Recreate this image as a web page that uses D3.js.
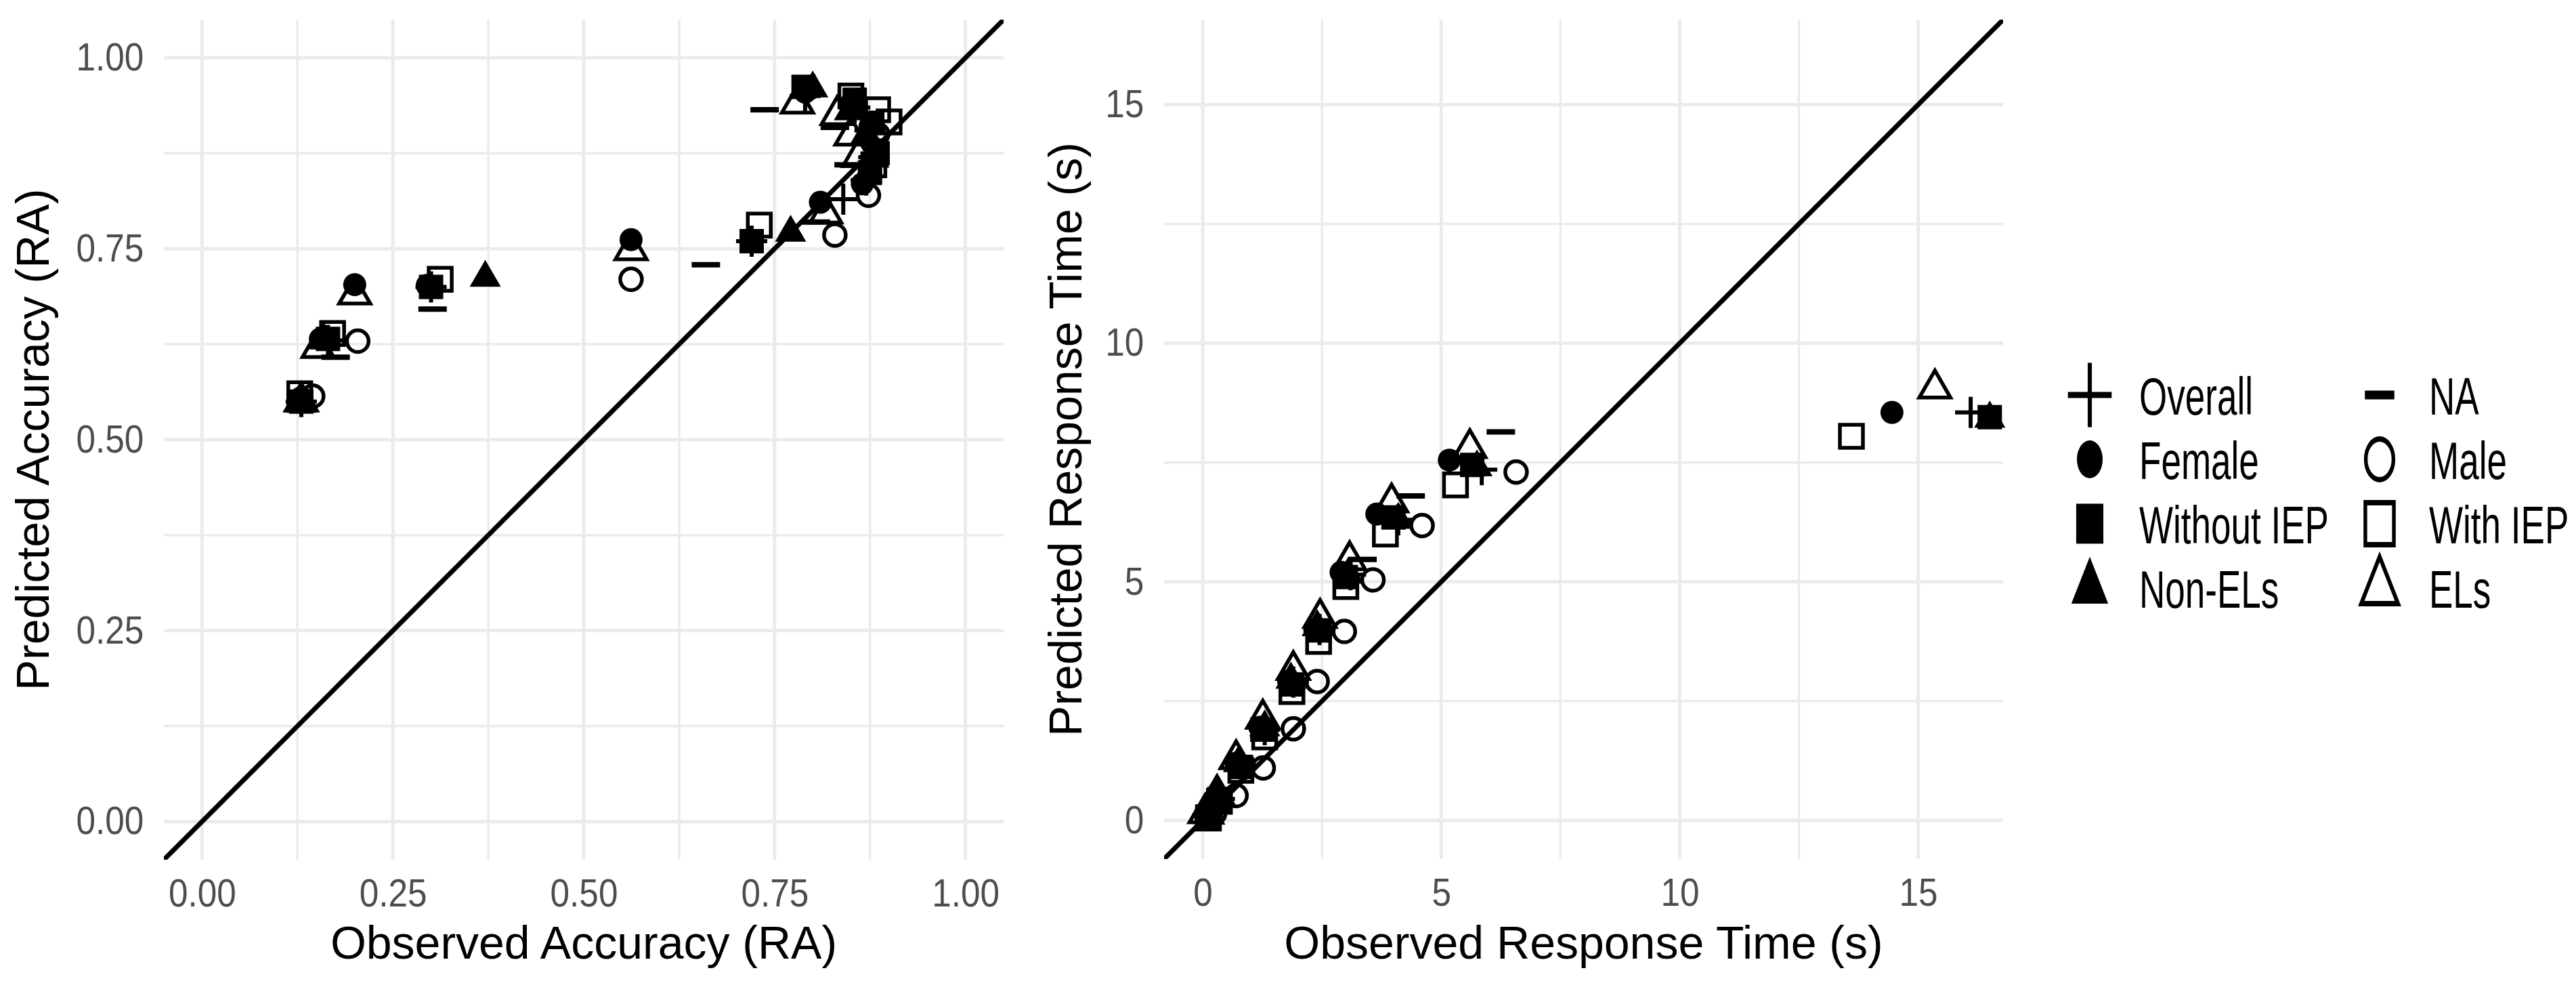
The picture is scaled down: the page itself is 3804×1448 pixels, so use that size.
<!DOCTYPE html>
<html>
<head>
<meta charset="utf-8">
<script src="https://cdn.jsdelivr.net/npm/d3@7"></script>
<style>
  body { margin: 0; background: #fff; }
  svg text { font-family: "Liberation Sans", Arial, sans-serif; }
</style>
</head>
<body>
<div id="chart"></div>
<script>
// group order (legend reads column by column)
var groupNames = ["Overall", "Female", "Without IEP", "Non-ELs", "NA", "Male", "With IEP", "ELs"];

// accuracy panel: [observed, predicted]
var accOverall = [[0.13,0.55],[0.165,0.63],[0.30,0.70],[0.72,0.76],[0.79,0.95],[0.855,0.935],[0.875,0.905],[0.88,0.87],[0.87,0.84],[0.84,0.815]];
var accFemale = [[0.13,0.555],[0.155,0.632],[0.20,0.703],[0.295,0.702],[0.562,0.762],[0.81,0.811],[0.79,0.955],[0.85,0.94],[0.875,0.91],[0.885,0.88],[0.865,0.835]];
var accWithoutIEP = [[0.13,0.55],[0.165,0.632],[0.30,0.70],[0.72,0.76],[0.788,0.962],[0.855,0.945],[0.878,0.915],[0.885,0.875],[0.875,0.85]];
var accNonELs = [[0.13,0.547],[0.16,0.63],[0.371,0.712],[0.771,0.771],[0.80,0.96],[0.848,0.93],[0.87,0.90],[0.88,0.868],[0.87,0.845]];
var accNA = [[0.175,0.608],[0.302,0.671],[0.66,0.729],[0.804,0.785],[0.737,0.932],[0.829,0.909],[0.847,0.86]];
var accMale = [[0.145,0.557],[0.204,0.629],[0.562,0.71],[0.829,0.768],[0.873,0.82],[0.885,0.90]];
var accWithIEP = [[0.128,0.56],[0.171,0.639],[0.312,0.71],[0.73,0.781],[0.85,0.95],[0.885,0.932],[0.90,0.916],[0.88,0.86]];
var accELs = [[0.13,0.55],[0.152,0.62],[0.20,0.69],[0.562,0.748],[0.817,0.796],[0.78,0.94],[0.832,0.925],[0.85,0.898],[0.86,0.87]];

// response time panel: [observed, predicted]
var rtOverall = [[0.1,0.1],[0.35,0.45],[0.8,1.15],[1.3,1.9],[1.9,2.9],[2.45,4.0],[3.1,5.15],[4.1,6.3],[5.85,7.35],[16.1,8.55]];
var rtFemale = [[0.05,0.12],[0.3,0.5],[0.7,1.2],[1.2,1.95],[1.8,2.92],[2.35,4.0],[2.9,5.2],[3.65,6.42],[5.17,7.55],[14.45,8.55]];
var rtWithoutIEP = [[0.1,0.08],[0.35,0.45],[0.8,1.12],[1.25,1.9],[1.88,2.85],[2.45,3.98],[3.0,5.1],[4.0,6.35],[5.65,7.45],[16.5,8.45]];
var rtNonELs = [[0.15,0.1],[0.3,0.48],[0.75,1.2],[1.3,1.95],[1.85,2.95],[2.4,4.05],[3.05,5.15],[4.1,6.3],[5.75,7.4],[16.5,8.42]];
var rtNA = [[3.35,5.47],[4.36,6.8],[6.25,8.14]];
var rtMale = [[0.25,0.15],[0.7,0.52],[1.27,1.1],[1.9,1.92],[2.4,2.91],[2.97,3.96],[3.57,5.04],[4.6,6.18],[6.57,7.3]];
var rtWithIEP = [[0.12,0.05],[0.35,0.4],[0.8,1.05],[1.3,1.75],[1.87,2.7],[2.43,3.75],[3.0,4.9],[3.83,6.0],[5.3,7.03],[13.6,8.05]];
var rtELs = [[0.05,0.15],[0.3,0.55],[0.7,1.28],[1.26,2.13],[1.9,3.15],[2.46,4.24],[3.08,5.45],[3.96,6.66],[5.6,7.8],[15.35,9.05]];

// ticks
var accTicks = [0, 0.25, 0.5, 0.75, 1];
var accTickLabels = ["0.00", "0.25", "0.50", "0.75", "1.00"];
var accMinor = [0.125, 0.375, 0.625, 0.875];
var rtTicks = [0, 5, 10, 15];
var rtTickLabels = ["0", "5", "10", "15"];
var rtMinor = [2.5, 7.5, 12.5];

var svgWidth = 3804;
var svgHeight = 1448;

var svg = d3.select("#chart")
            .append("svg")
            .attr("width", svgWidth)
            .attr("height", svgHeight);

// thin-stroke symbols like ggplot shape 3 and "-"
var plusType = {
  draw: function(ctx, size) {
    var r = Math.sqrt(size) / 2;
    ctx.moveTo(-r, 0); ctx.lineTo(r, 0);
    ctx.moveTo(0, -r); ctx.lineTo(0, r);
  }
};
var dashType = {
  draw: function(ctx, size) {
    var r = Math.sqrt(size) / 2;
    ctx.moveTo(-r, 0); ctx.lineTo(r, 0);
  }
};

var markStyle = {
  "Overall":     {type: plusType, filled: false, size: 46 * 46, sw: 6,   lsize: 95 * 95, lsw: 9},
  "Female":      {type: d3.symbolCircle, filled: true, size: 908, lsize: 2460},
  "Without IEP": {type: d3.symbolSquare, filled: true, size: 1296, lsize: 3480},
  "Non-ELs":     {type: d3.symbolTriangle, filled: true, size: 916, lsize: 2770},
  "NA":          {type: dashType, filled: false, size: 42 * 42, sw: 8,  lsize: 64 * 64, lsw: 13},
  "Male":        {type: d3.symbolCircle, filled: false, size: 804, sw: 5.5, lsize: 2830, lsw: 8},
  "With IEP":    {type: d3.symbolSquare, filled: false, size: 1156, sw: 5.5, lsize: 3840, lsw: 8},
  "ELs":         {type: d3.symbolTriangle, filled: false, size: 916, sw: 5.5, lsize: 2770, lsw: 8}
};

var tickSqueeze = 0.9;

function drawPanel(p) {
  var x = d3.scaleLinear().domain(p.domain).range([p.left, p.left + p.size]);
  var y = d3.scaleLinear().domain(p.domain).range([p.top + p.size, p.top]);

  var g = svg.append("g");

  // grid: minor first, then major
  [[p.minor, 3.5], [p.ticks, 5]].forEach(function(set) {
    g.selectAll(null)
      .data(set[0])
      .enter()
      .append("line")
      .attr("x1", function(d) { return x(d); })
      .attr("x2", function(d) { return x(d); })
      .attr("y1", p.top)
      .attr("y2", p.top + p.size)
      .attr("stroke", "#ebebeb")
      .attr("stroke-width", set[1]);
    g.selectAll(null)
      .data(set[0])
      .enter()
      .append("line")
      .attr("y1", function(d) { return y(d); })
      .attr("y2", function(d) { return y(d); })
      .attr("x1", p.left)
      .attr("x2", p.left + p.size)
      .attr("stroke", "#ebebeb")
      .attr("stroke-width", set[1]);
  });

  // axes
  var xAxis = d3.axisBottom(x)
    .tickValues(p.ticks)
    .tickFormat(function(d, i) { return p.labels[i]; })
    .tickSize(0)
    .tickPadding(29);
  var yAxis = d3.axisLeft(y)
    .tickValues(p.ticks)
    .tickFormat(function(d, i) { return p.labels[i]; })
    .tickSize(0)
    .tickPadding(33);

  var gx = g.append("g").attr("transform", "translate(0," + (p.top + p.size) + ")").call(xAxis);
  var gy = g.append("g").attr("transform", "translate(" + p.left + ",0)").call(yAxis);
  [gx, gy].forEach(function(ax) {
    ax.select(".domain").remove();
    ax.selectAll("text")
      .attr("font-size", 57)
      .attr("fill", "#4d4d4d")
      .attr("font-family", "'Liberation Sans', Arial, sans-serif")
      .attr("transform", "scale(" + tickSqueeze + ",1)");
  });

  // identity line, clipped to the panel
  var clipId = "clip-" + p.name;
  svg.append("clipPath").attr("id", clipId)
    .append("rect")
    .attr("x", p.left).attr("y", p.top)
    .attr("width", p.size).attr("height", p.size);
  g.append("line")
    .attr("clip-path", "url(#" + clipId + ")")
    .attr("x1", x(p.domain[0])).attr("y1", y(p.domain[0]))
    .attr("x2", x(p.domain[1])).attr("y2", y(p.domain[1]))
    .attr("stroke", "#000")
    .attr("stroke-width", 7);

  // points
  groupNames.forEach(function(name, gi) {
    var st = markStyle[name];
    var sym = d3.symbol().type(st.type).size(st.size);
    g.selectAll(null)
      .data(p.series[gi])
      .enter()
      .append("path")
      .attr("transform", function(d) { return "translate(" + x(d[0]) + "," + y(d[1]) + ")"; })
      .attr("d", sym)
      .attr("fill", st.filled ? "#000" : "none")
      .attr("stroke", st.filled ? "none" : "#000")
      .attr("stroke-width", st.sw || 0);
  });

  // titles
  g.append("text")
    .text(p.xTitle)
    .attr("text-anchor", "middle")
    .attr("font-size", 68)
    .attr("fill", "#000")
    .attr("x", p.left + p.size / 2)
    .attr("y", 1415);
  g.append("text")
    .text(p.yTitle)
    .attr("text-anchor", "middle")
    .attr("font-size", 68)
    .attr("fill", "#000")
    .attr("transform", "translate(" + p.yTitleX + "," + (p.top + p.size / 2) + ") rotate(-90)");
}

drawPanel({
  name: "acc",
  left: 242, top: 29, size: 1240,
  domain: [-0.05, 1.05],
  ticks: accTicks, labels: accTickLabels, minor: accMinor,
  series: [accOverall, accFemale, accWithoutIEP, accNonELs, accNA, accMale, accWithIEP, accELs],
  xTitle: "Observed Accuracy (RA)",
  yTitle: "Predicted Accuracy (RA)",
  yTitleX: 72
});

drawPanel({
  name: "rt",
  left: 1719, top: 29, size: 1239,
  domain: [-0.81, 16.78],
  ticks: rtTicks, labels: rtTickLabels, minor: rtMinor,
  series: [rtOverall, rtFemale, rtWithoutIEP, rtNonELs, rtNA, rtMale, rtWithIEP, rtELs],
  xTitle: "Observed Response Time (s)",
  yTitle: "Predicted Response Time (s)",
  yTitleX: 1597
});

// legend, two columns of four
var legendSymX = [3086, 3514];
var legendTextX = [3159, 3587];
var legendRowY = [583, 678, 773, 868];
var legendSqueeze = 0.68;

var legend = svg.append("g");
groupNames.forEach(function(name, i) {
  var col = Math.floor(i / 4), row = i % 4;
  var st = markStyle[name];
  legend.append("path")
    .attr("transform", "translate(" + legendSymX[col] + "," + legendRowY[row] + ") scale(" + legendSqueeze + ",1)")
    .attr("d", d3.symbol().type(st.type).size(st.lsize))
    .attr("fill", st.filled ? "#000" : "none")
    .attr("stroke", st.filled ? "none" : "#000")
    .attr("stroke-width", st.lsw || 0);
  legend.append("text")
    .text(name)
    .attr("font-size", 78)
    .attr("fill", "#000")
    .attr("transform", "translate(" + legendTextX[col] + "," + (legendRowY[row] + 29) + ") scale(" + legendSqueeze + ",1)");
});
</script>
</body>
</html>
